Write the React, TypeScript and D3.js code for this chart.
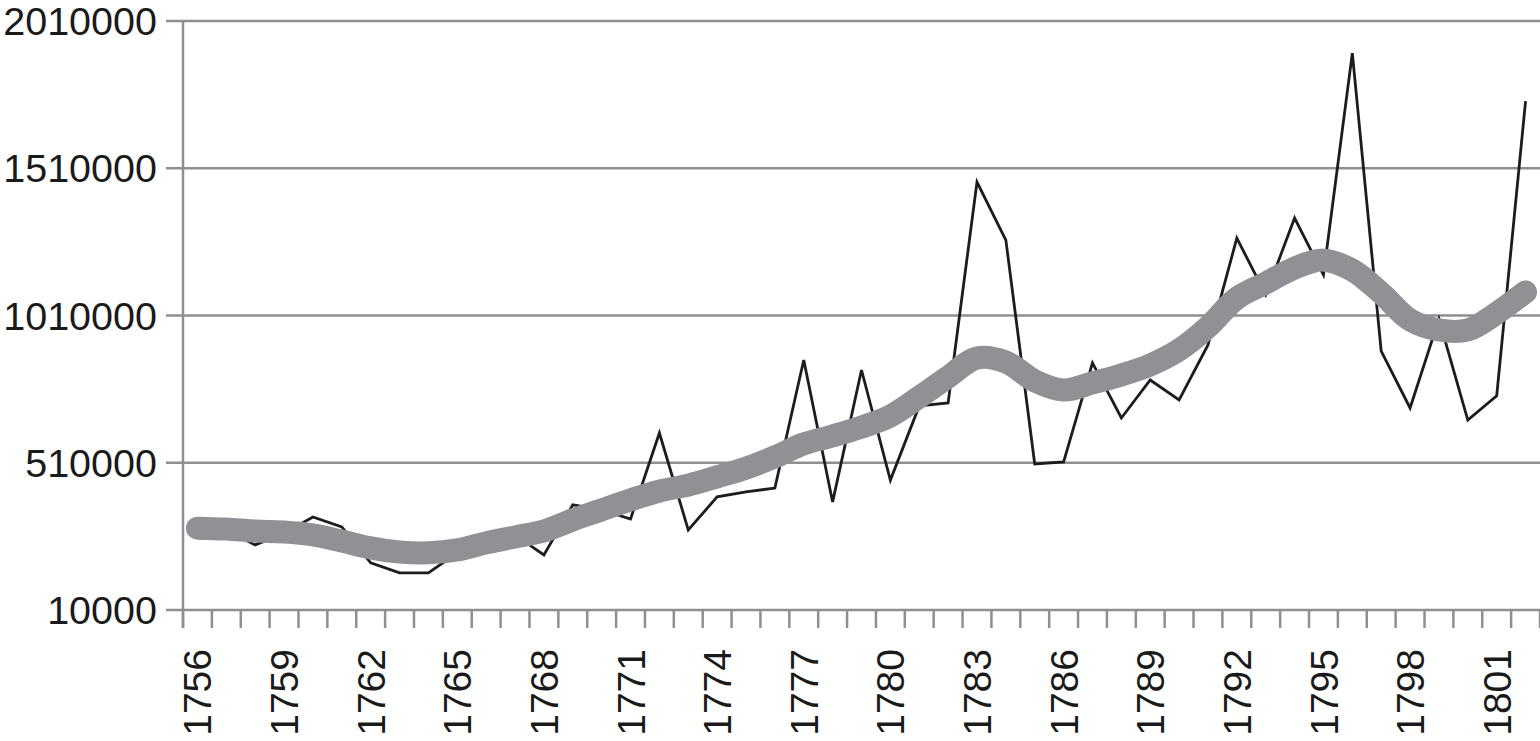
import React from "react";
import * as d3 from "d3";

const years: number[] = d3.range(1756, 1803);

const actualValues: number[] = [
  288000, 282000, 231000, 271000, 326000, 292000, 170000, 136000, 136000, 204000,
  238000, 265000, 197000, 367000, 350000, 319000, 611000, 282000, 394000, 411000,
  424000, 859000, 377000, 825000, 451000, 703000, 713000, 1463000, 1266000, 506000,
  513000, 849000, 662000, 791000, 723000, 910000, 1273000, 1080000, 1341000, 1148000,
  1901000, 889000, 696000, 998000, 655000, 737000, 1738000,
];

const trendValues: number[] = [
  288000, 285000, 278000, 275000, 265000, 244000, 221000, 207000, 204000, 214000,
  238000, 258000, 278000, 316000, 350000, 384000, 414000, 434000, 462000, 492000,
  530000, 574000, 601000, 631000, 669000, 733000, 801000, 866000, 852000, 788000,
  757000, 781000, 808000, 842000, 893000, 971000, 1069000, 1120000, 1171000, 1198000,
  1164000, 1086000, 995000, 961000, 961000, 1018000, 1090000,
];

const yTicks: number[] = [10000, 510000, 1010000, 1510000, 2010000];
const xLabelYears: number[] = d3.range(1756, 1803, 3);

const W = 1540;
const H = 741;
const left = 183;
const right = 1540;
const top = 21;
const bottom = 610;
const axisColor = "#8f8f8f";
const font = "'Liberation Sans', Arial, Helvetica, sans-serif";

export default function App() {
  const x = d3
    .scaleBand<number>()
    .domain(years)
    .range([left, right])
    .paddingInner(0)
    .paddingOuter(0);
  const y = d3.scaleLinear().domain([10000, 2010000]).range([bottom, top]);
  const cx = (yr: number) => (x(yr) as number) + x.bandwidth() / 2;

  const lineActual = d3
    .line<number>()
    .x((_, i) => cx(years[i]))
    .y((d) => y(d));
  const lineTrend = d3
    .line<number>()
    .x((_, i) => cx(years[i]))
    .y((d) => y(d))
    .curve(d3.curveCatmullRom.alpha(0.5));

  const boundaries = years.map((yr) => x(yr) as number).concat([right]);

  return (
    <svg
      width={W}
      height={H}
      style={{ position: "absolute", left: 0, top: 0, background: "#fff" }}
    >
      {yTicks.map((t) => (
        <line
          key={"g" + t}
          x1={left - 17}
          x2={right}
          y1={y(t)}
          y2={y(t)}
          stroke={axisColor}
          strokeWidth={2.5}
        />
      ))}
      <line x1={left} x2={left} y1={top} y2={bottom + 18} stroke={axisColor} strokeWidth={2.5} />
      {boundaries.map((b, i) => (
        <line key={"t" + i} x1={b} x2={b} y1={bottom} y2={bottom + 18} stroke={axisColor} strokeWidth={2.5} />
      ))}
      {yTicks.map((t) => (
        <text
          key={"yl" + t}
          x={157}
          y={y(t)}
          dy="0.36em"
          textAnchor="end"
          fontFamily={font}
          fontSize={39.5}
          fill="#1a1a1a"
        >
          {t}
        </text>
      ))}
      {xLabelYears.map((yr) => (
        <text
          key={"xl" + yr}
          transform={`translate(${cx(yr)},649) rotate(-90)`}
          dy="0.36em"
          textAnchor="end"
          fontFamily={font}
          fontSize={39}
          fill="#1a1a1a"
        >
          {yr}
        </text>
      ))}
      <path d={lineActual(actualValues) || ""} fill="none" stroke="#1c1c1c" strokeWidth={2.8} strokeLinejoin="miter" />
      <path
        d={lineTrend(trendValues) || ""}
        fill="none"
        stroke="#909194"
        strokeWidth={23}
        strokeLinecap="round"
        strokeLinejoin="round"
      />
    </svg>
  );
}
